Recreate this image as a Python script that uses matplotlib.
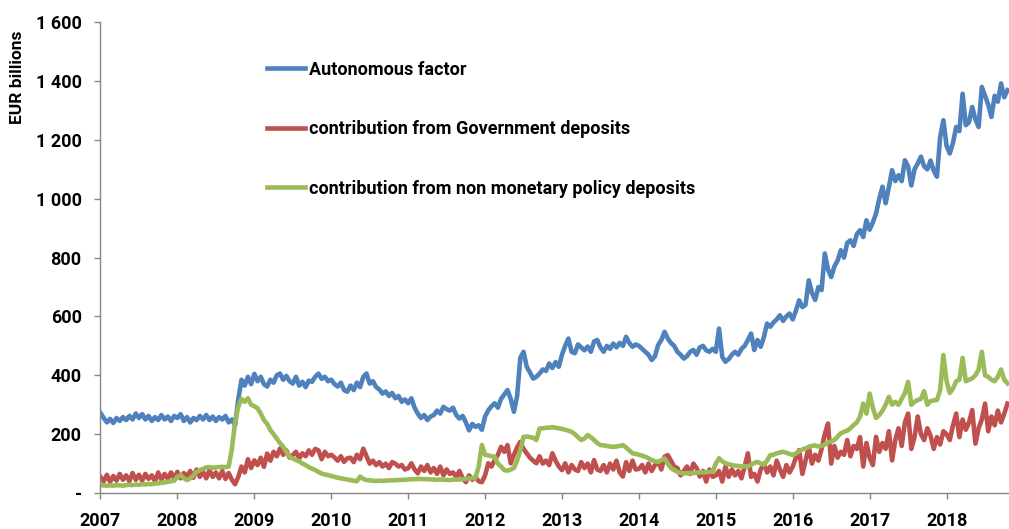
import matplotlib
matplotlib.use("Agg")
import matplotlib.pyplot as plt
from matplotlib.ticker import FuncFormatter
import numpy as np

plt.rcParams['font.family'] = ['Roboto', 'DejaVu Sans']
plt.rcParams['font.weight'] = 'bold'

# half-monthly readings from Jan 2007, EUR billions
start_year = 2007
per_year = 24

autonomous = [
    272, 255, 240, 252, 238, 255, 245, 258, 248, 262, 250, 270, 255, 268, 250, 262, 245, 258, 248, 265, 250, 260, 245, 262,
    255, 268, 245, 258, 240, 255, 248, 262, 250, 265, 248, 260, 245, 258, 250, 262, 240, 250, 230, 320, 385, 365, 395, 370,
    405, 380, 395, 370, 362, 385, 375, 400, 406, 385, 398, 380, 372, 395, 365, 378, 360, 382, 378, 395, 406, 388, 395, 380,
    385, 370, 362, 375, 350, 344, 365, 350, 375, 360, 395, 406, 372, 380, 360, 352, 338, 345, 330, 340, 322, 330, 310, 318,
    305, 322, 290, 270, 255, 265, 248, 260, 265, 280, 270, 293, 285, 280, 290, 265, 253, 262, 240, 213, 235, 225, 230, 215,
    260, 281, 295, 305, 290, 320, 335, 350, 320, 276, 330, 460, 480, 429, 410, 389, 395, 406, 420, 415, 440, 425, 445, 429,
    470, 500, 525, 480, 475, 505, 495, 485, 498, 480, 515, 520, 495, 480, 500, 490, 508, 495, 510, 500, 531, 510, 497, 505,
    500, 490, 480, 470, 452, 465, 503, 520, 548, 525, 510, 500, 480, 470, 457, 465, 480, 486, 470, 495, 500, 485, 480, 490,
    480, 559, 463, 446, 455, 470, 480, 470, 490, 500, 520, 542, 486, 520, 497, 530, 576, 565, 580, 590, 604, 585, 600, 610,
    590, 620, 655, 632, 640, 723, 680, 656, 700, 690, 814, 760, 734, 770, 790, 825, 800, 850, 859, 840, 880, 893, 870, 927,
    895, 920, 950, 1000, 1041, 985, 1040, 1097, 1060, 1080, 1060, 1131, 1110, 1045, 1100, 1120, 1143, 1110, 1100, 1130, 1095, 1075, 1210, 1267,
    1180, 1154, 1190, 1244, 1230, 1357, 1250, 1260, 1312, 1270, 1244, 1380, 1350, 1320, 1278, 1350, 1330, 1392, 1345, 1369,
]

government = [
    55, 40, 62, 38, 58, 42, 65, 45, 60, 40, 68, 45, 62, 42, 65, 48, 60, 40, 70, 45, 65, 48, 70, 50,
    72, 50, 68, 55, 75, 52, 80, 55, 72, 50, 78, 55, 70, 50, 75, 48, 68, 45, 30, 55, 90, 70, 115, 85,
    111, 95, 120, 89, 134, 110, 140, 125, 151, 130, 145, 120, 129, 140, 118, 135, 125, 145, 130, 150, 145, 115, 140, 125,
    130, 121, 110, 125, 106, 118, 120, 105, 130, 115, 151, 125, 100, 110, 95, 105, 90, 100, 85, 105, 100, 90, 95, 80,
    84, 101, 80, 67, 90, 75, 95, 70, 85, 65, 90, 60, 80, 65, 70, 55, 75, 50, 37, 60, 45, 55, 40, 37,
    60, 101, 90, 112, 130, 157, 140, 163, 101, 130, 155, 174, 150, 135, 120, 110, 101, 125, 100, 110, 95, 135, 110, 90,
    78, 101, 70, 95, 80, 75, 105, 85, 100, 70, 112, 80, 75, 95, 70, 100, 80, 110, 70, 56, 105, 75, 110, 80,
    82, 95, 70, 100, 75, 95, 105, 80, 123, 129, 110, 90, 85, 60, 75, 90, 65, 100, 85, 56, 75, 39, 80, 55,
    60, 75, 39, 90, 55, 80, 60, 75, 50, 90, 135, 55, 65, 39, 80, 100, 70, 90, 60, 110, 80, 55, 95, 70,
    90, 120, 146, 65, 110, 157, 100, 130, 110, 150, 200, 236, 100, 160, 120, 140, 130, 180, 125, 160, 150, 190, 90, 170,
    120, 95, 191, 140, 170, 150, 210, 111, 180, 220, 160, 240, 270, 150, 190, 260, 200, 180, 220, 195, 150, 190, 165, 210,
    200, 180, 230, 270, 190, 250, 215, 240, 282, 168, 220, 250, 304, 210, 260, 230, 280, 240, 270, 304,
]

non_monetary = [
    27, 26, 25, 26, 25, 27, 26, 25, 27, 28, 27, 29, 28, 30, 29, 31, 30, 32, 33, 35, 36, 38, 40, 42,
    55, 61, 50, 44, 50, 60, 72, 78, 82, 87, 88, 86, 87, 88, 89, 88, 90, 150, 240, 293, 320, 310, 322, 300,
    295, 288, 270, 248, 235, 214, 200, 185, 170, 157, 140, 123, 118, 112, 108, 100, 95, 88, 83, 78, 72, 66, 63, 61,
    58, 55, 52, 50, 48, 46, 44, 42, 40, 56, 48, 44, 43, 42, 41, 42, 41, 42, 43, 43, 44, 44, 45, 45,
    46, 47, 47, 48, 48, 47, 47, 46, 46, 45, 46, 45, 45, 44, 46, 45, 46, 47, 48, 50, 50, 52, 90, 163,
    130, 128, 125, 123, 100, 90, 78, 76, 80, 85, 110, 146, 191, 192, 190, 188, 180, 219, 220, 222, 222, 224, 222, 220,
    218, 215, 212, 208, 200, 190, 180, 185, 197, 190, 180, 170, 163, 162, 160, 158, 157, 158, 160, 163, 155, 145, 135, 133,
    130, 127, 123, 118, 112, 108, 106, 112, 117, 100, 85, 78, 72, 68, 67, 67, 68, 68, 69, 70, 70, 71, 72, 72,
    100, 118, 108, 101, 98, 95, 93, 92, 90, 91, 90, 96, 102, 106, 100, 96, 110, 129, 130, 135, 138, 140, 137, 133,
    129, 135, 142, 148, 152, 156, 160, 162, 158, 160, 165, 172, 175, 180, 192, 203, 208, 212, 220, 231, 240, 260, 304, 270,
    338, 290, 255, 265, 280, 300, 327, 300, 310, 300, 320, 340, 378, 300, 310, 316, 320, 346, 300, 312, 315, 316, 350, 469,
    380, 340, 355, 380, 385, 459, 380, 385, 390, 400, 420, 480, 400, 395, 385, 380, 395, 420, 385, 373,
]

labels = ['Autonomous factor',
          'contribution from Government deposits',
          'contribution from non monetary policy deposits']
colors = ['#4F81BD', '#C0504D', '#9BBB59']
years = list(range(2007, 2019))
yticks = [0, 200, 400, 600, 800, 1000, 1200, 1400, 1600]

dates = start_year + np.arange(len(autonomous)) / per_year

fig = plt.figure(figsize=(10.09, 5.29), dpi=100)
ax = fig.add_axes([0.0996, 0.068, 0.9004, 0.89])

for series, lab, col in zip([autonomous, government, non_monetary], labels, colors):
    ax.plot(dates, series, color=col, lw=3.3, label=lab, solid_joinstyle='round')

ax.set_xlim(2007, dates[-1] + 0.02)
ax.set_ylim(0, 1600)
ax.set_xticks(years)
ax.set_yticks(yticks)
ax.yaxis.set_major_formatter(FuncFormatter(
    lambda v, p: '-' if v == 0 else '{:,.0f}'.format(v).replace(',', ' ')))

for s in ['top', 'right']:
    ax.spines[s].set_visible(False)
for s in ['left', 'bottom']:
    ax.spines[s].set_color('#868686')
    ax.spines[s].set_linewidth(1)
ax.tick_params(direction='out', length=4.5, width=1, color='#868686',
               labelsize=13, pad=9)
for t in ax.get_xticklabels() + ax.get_yticklabels():
    t.set_fontweight('bold')

ax.set_ylabel('EUR billions', fontsize=12.5, fontweight='bold')
ax.yaxis.set_label_coords(-0.083, 0.883)

leg = ax.legend(loc='center left', bbox_to_anchor=(0.183, 0.773), frameon=False,
                prop={'size': 13, 'weight': 'bold'}, handlelength=2.1,
                handletextpad=0.25, labelspacing=2.3, borderpad=0,
                borderaxespad=0)

fig.savefig('out.png', dpi=100)
